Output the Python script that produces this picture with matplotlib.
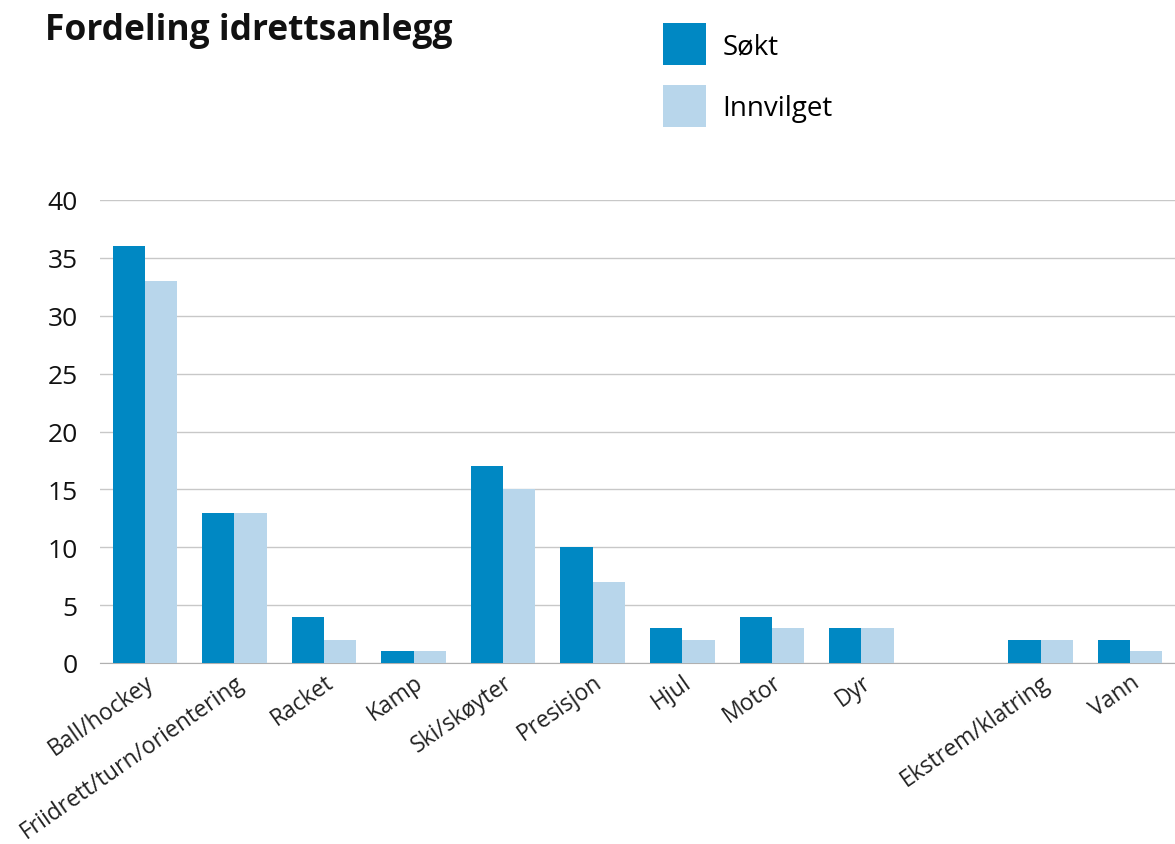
import matplotlib
matplotlib.use("Agg")
import matplotlib.pyplot as plt
import numpy as np

categories = ["Ball/hockey", "Friidrett/turn/orientering", "Racket", "Kamp", "Ski/skøyter",
              "Presisjon", "Hjul", "Motor", "Dyr", "", "Ekstrem/klatring", "Vann"]
sokt = [36, 13, 4, 1, 17, 10, 3, 4, 3, 0, 2, 2]
innvilget = [33, 13, 2, 1, 15, 7, 2, 3, 3, 0, 2, 1]
yticks = [0, 5, 10, 15, 20, 25, 30, 35, 40]

plt.rcParams['font.family'] = ['Open Sans', 'DejaVu Sans']

W, H = 1175, 845
fig = plt.figure(figsize=(W/100, H/100), dpi=100)
ax = fig.add_axes([100/W, 1-664/H, 1075/W, (664-201)/H])

x = np.arange(len(categories))
bw = 0.36
c1 = "#0088c3"
c2 = "#b8d6eb"
ax.bar(x - bw/2, sokt, bw, color=c1, label="Søkt", zorder=3)
ax.bar(x + bw/2, innvilget, bw, color=c2, label="Innvilget", zorder=3)

ax.set_xlim(-0.5, len(categories) - 0.5)
ax.set_ylim(0, 40)
ax.set_yticks(yticks)
ax.set_yticklabels([str(v) for v in yticks], fontsize=19)
ax.yaxis.grid(True, color="#c8c8c8", linewidth=1)
ax.set_axisbelow(True)
for s in ["top", "right", "left"]:
    ax.spines[s].set_visible(False)
ax.spines["bottom"].set_color("#b0b0b0")
ax.tick_params(axis="y", length=0, pad=16, labelcolor="#111111")
ax.tick_params(axis="x", length=0, pad=5)
ax.set_xticks(x)
ax.set_xticklabels(categories, rotation=35, ha="right", rotation_mode="anchor",
                   fontsize=16.5, color="#222222")

fig.text(45/W, 1-13/H, "Fordeling idrettsanlegg", fontsize=25.5, fontweight="bold",
         va="top", ha="left", color="#111111")

handles, labels = ax.get_legend_handles_labels()
fig.legend(handles, labels, loc="upper left", bbox_to_anchor=(663/W, 1-24/H),
           frameon=False, fontsize=20, handlelength=1.55, handleheight=1.95,
           labelspacing=0.72, handletextpad=0.6, borderaxespad=0, borderpad=0)

fig.savefig("out.png", dpi=100)
